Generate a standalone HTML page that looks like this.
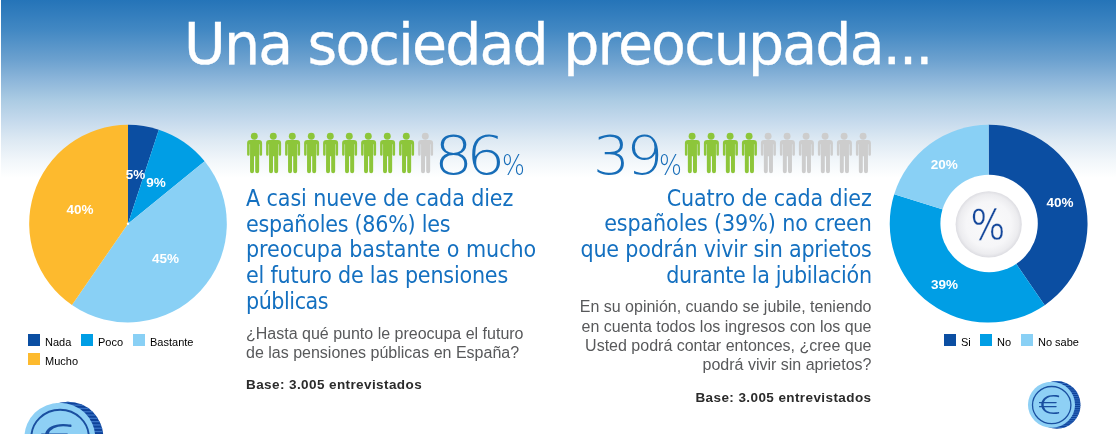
<!DOCTYPE html>
<html lang="es"><head><meta charset="utf-8"><title>Una sociedad preocupada</title>
<style>
html,body{margin:0;padding:0;background:#fff;}
body{width:1116px;height:434px;overflow:hidden;position:relative;font-family:"Liberation Sans",Arial,sans-serif;}
#bg{position:absolute;left:1px;top:0;width:1115px;height:434px;background:linear-gradient(to bottom,#2574b8 0px,#4288c3 30px,#6ca1cf 60px,#8db6da 80px,#abcbe3 100px,#c4d9ec 120px,#dde9f3 140px,#f1f6fa 160px,#ffffff 178px);}
#art{position:absolute;left:0;top:0;}
h1{position:absolute;margin:0;left:184px;text-align:left;color:#fff;font-family:"DejaVu Sans",sans-serif;font-weight:normal;font-size:57px;line-height:66px;white-space:nowrap;letter-spacing:-1.84px;top:11px;-webkit-text-stroke:0.35px #fff;}
.blue{position:absolute;margin:0;color:#1470c0;font-family:"DejaVu Sans Condensed","DejaVu Sans",sans-serif;font-size:23px;line-height:25.75px;white-space:nowrap;letter-spacing:-0.1px;}
.gray{position:absolute;margin:0;color:#58595b;font-size:16px;line-height:19px;white-space:nowrap;}
.base{position:absolute;margin:0;color:#2b2b2b;font-weight:bold;font-size:13.5px;line-height:16px;letter-spacing:0.41px;white-space:nowrap;}
.r{text-align:right;}
.big{position:absolute;color:#176db8;font-family:"DejaVu Sans Light","DejaVu Sans",sans-serif;font-weight:200;font-size:52.5px;line-height:52px;white-space:nowrap;transform-origin:0 0;letter-spacing:-5.9px;transform:scaleX(1.17);}
.sm{position:absolute;color:#176db8;font-family:"DejaVu Sans Light","DejaVu Sans",sans-serif;font-weight:200;font-size:28px;line-height:28px;white-space:nowrap;transform-origin:0 0;transform:scaleX(0.86);}
.lbl{position:absolute;color:#fff;font-weight:bold;font-size:13.5px;line-height:14px;white-space:nowrap;transform:translate(-50%,-50%);}
.leg{position:absolute;font-size:11px;line-height:12px;color:#000;white-space:nowrap;}
.leg span{position:relative;top:2px;}
.leg i{position:absolute;width:12px;height:12px;top:0;}
.pct{position:absolute;left:988.3px;top:224.6px;color:#14479b;font-family:"NanumGothic","Liberation Sans",sans-serif;font-size:41px;line-height:41px;-webkit-text-stroke:0.3px #f7f7f9;transform:translate(-50%,-50%) scaleX(0.88);}
</style></head><body>
<div id="bg"></div>
<svg id="art" width="1116" height="434" viewBox="0 0 1116 434">
<defs><symbol id="p" viewBox="0 0 16 41" overflow="visible"><circle cx="7.8" cy="3.65" r="3.45"/><path d="M3.2,7.3 h9.2 a3.2,3.2 0 0 1 3.2,3.2 v11.4 a1.25,1.25 0 0 1 -2.5,0 v-10.2 h-0.45 v26.9 a1.97,1.97 0 0 1 -3.95,0 v-15 h-1.2 v15 a1.97,1.97 0 0 1 -3.95,0 v-26.9 h-0.45 v10.2 a1.25,1.25 0 0 1 -2.5,0 v-11.4 a3.2,3.2 0 0 1 3.2,-3.2 z"/></symbol>
<clipPath id="rimclip"><ellipse cx="5.4" cy="0.1" rx="23.6" ry="23.8"/></clipPath>
<g id="coin">
<ellipse cx="5.4" cy="0.1" rx="23.6" ry="23.8" fill="#0d429a"/>
<g clip-path="url(#rimclip)" fill="#3a74c6"><rect x="0" y="-24.00" width="32" height="0.85"/><rect x="0" y="-21.80" width="32" height="0.85"/><rect x="0" y="-19.60" width="32" height="0.85"/><rect x="0" y="-17.40" width="32" height="0.85"/><rect x="0" y="-15.20" width="32" height="0.85"/><rect x="0" y="-13.00" width="32" height="0.85"/><rect x="0" y="-10.80" width="32" height="0.85"/><rect x="0" y="-8.60" width="32" height="0.85"/><rect x="0" y="-6.40" width="32" height="0.85"/><rect x="0" y="-4.20" width="32" height="0.85"/><rect x="0" y="-2.00" width="32" height="0.85"/><rect x="0" y="0.20" width="32" height="0.85"/><rect x="0" y="2.40" width="32" height="0.85"/><rect x="0" y="4.60" width="32" height="0.85"/><rect x="0" y="6.80" width="32" height="0.85"/><rect x="0" y="9.00" width="32" height="0.85"/><rect x="0" y="11.20" width="32" height="0.85"/><rect x="0" y="13.40" width="32" height="0.85"/><rect x="0" y="15.60" width="32" height="0.85"/><rect x="0" y="17.80" width="32" height="0.85"/><rect x="0" y="20.00" width="32" height="0.85"/><rect x="0" y="22.20" width="32" height="0.85"/><rect x="0" y="24.40" width="32" height="0.85"/></g>
<ellipse cx="0" cy="0" rx="23.55" ry="22.95" fill="#8ed0f5"/>
<ellipse cx="0.2" cy="0.3" rx="19.2" ry="18.6" fill="none" stroke="#1a4fa0" stroke-width="1.3"/>
<text transform="translate(-12.4,9.1) scale(1.36,1.02)" x="0" y="0" font-family="NanumGothic, 'DejaVu Sans', sans-serif" font-size="24" fill="#1a4fa0">€</text>
</g>
<radialGradient id="rg" cx="50%" cy="50%" r="50%"><stop offset="0" stop-color="#fafafb"/><stop offset="0.68" stop-color="#f6f6f8"/><stop offset="0.9" stop-color="#ececef"/><stop offset="1" stop-color="#dddde2"/></radialGradient>
</defs>
<path d="M128.00,223.65 L128.00,124.85 A98.8,98.8 0 0 1 158.83,129.78 Z" fill="#0b4ea2"/>
<path d="M128.00,223.65 L158.83,129.78 A98.8,98.8 0 0 1 204.68,161.35 Z" fill="#009ee5"/>
<path d="M128.00,223.65 L204.68,161.35 A98.8,98.8 0 0 1 71.97,305.03 Z" fill="#89d0f5"/>
<path d="M128.00,223.65 L71.97,305.03 A98.8,98.8 0 0 1 128.00,124.85 Z" fill="#fdba2e"/>
<circle cx="128" cy="223.8" r="1.2" fill="#fff"/>
<path d="M988.65,223.70 L988.65,124.80 A98.9,98.9 0 0 1 1044.73,305.16 Z" fill="#0b4ea2"/>
<path d="M988.65,223.70 L1044.73,305.16 A98.9,98.9 0 0 1 894.21,194.33 Z" fill="#009ee5"/>
<path d="M988.65,223.70 L894.21,194.33 A98.9,98.9 0 0 1 988.65,124.80 Z" fill="#89d0f5"/>
<circle cx="989.1" cy="223.5" r="48.7" fill="#fff"/>
<circle cx="988.7" cy="224.3" r="33.1" fill="url(#rg)"/>
<use href="#p" x="246.5" y="132.6" width="16" height="41" fill="#8dc63a"/>
<use href="#p" x="265.5" y="132.6" width="16" height="41" fill="#8dc63a"/>
<use href="#p" x="284.5" y="132.6" width="16" height="41" fill="#8dc63a"/>
<use href="#p" x="303.5" y="132.6" width="16" height="41" fill="#8dc63a"/>
<use href="#p" x="322.5" y="132.6" width="16" height="41" fill="#8dc63a"/>
<use href="#p" x="341.5" y="132.6" width="16" height="41" fill="#8dc63a"/>
<use href="#p" x="360.5" y="132.6" width="16" height="41" fill="#8dc63a"/>
<use href="#p" x="379.5" y="132.6" width="16" height="41" fill="#8dc63a"/>
<use href="#p" x="398.5" y="132.6" width="16" height="41" fill="#8dc63a"/>
<use href="#p" x="417.5" y="132.6" width="16" height="41" fill="#cdcdcd"/>
<use href="#p" x="684.3" y="132.6" width="16" height="41" fill="#8dc63a"/>
<use href="#p" x="703.3" y="132.6" width="16" height="41" fill="#8dc63a"/>
<use href="#p" x="722.3" y="132.6" width="16" height="41" fill="#8dc63a"/>
<use href="#p" x="741.3" y="132.6" width="16" height="41" fill="#8dc63a"/>
<use href="#p" x="760.3" y="132.6" width="16" height="41" fill="#cdcdcd"/>
<use href="#p" x="779.3" y="132.6" width="16" height="41" fill="#cdcdcd"/>
<use href="#p" x="798.3" y="132.6" width="16" height="41" fill="#cdcdcd"/>
<use href="#p" x="817.3" y="132.6" width="16" height="41" fill="#cdcdcd"/>
<use href="#p" x="836.3" y="132.6" width="16" height="41" fill="#cdcdcd"/>
<use href="#p" x="855.3" y="132.6" width="16" height="41" fill="#cdcdcd"/>
<use href="#coin" transform="translate(59.8,437.2) scale(1.5)"/>
<use href="#coin" transform="translate(1051.5,404.8) scale(1)"/>
</svg>
<h1>Una sociedad preocupada...</h1>

<div class="big" style="left:434.1px;top:130px">86</div><div class="sm" style="left:502px;top:152px">%</div>
<div class="big" style="left:593px;top:130px;transform:scaleX(1.108);letter-spacing:-3.4px">39</div><div class="sm" style="left:659px;top:152px">%</div>

<p class="blue" style="left:246px;top:185.8px">A casi nueve de cada diez<br><span style="letter-spacing:-0.245px">españoles (86%) les</span><br><span style="letter-spacing:-0.03px">preocupa bastante o mucho</span><br><span style="letter-spacing:-0.19px">el futuro de las pensiones</span><br><span style="letter-spacing:-0.45px">públicas</span></p>
<p class="gray" style="left:246px;top:324px">¿Hasta qué punto le preocupa el futuro<br>de las pensiones públicas en España?</p>
<p class="base" style="left:246px;top:377px">Base: 3.005 entrevistados</p>

<p class="blue r" style="right:244.3px;top:185.5px">Cuatro de cada diez<br>españoles (39%) no creen<br><span style="letter-spacing:-0.2px">que podrán vivir sin aprietos</span><br><span style="letter-spacing:-0.315px">durante la jubilación</span></p>
<p class="gray r" style="right:244.5px;top:297.4px;line-height:19.3px">En su opinión, cuando se jubile, teniendo<br>en cuenta todos los ingresos con los que<br>Usted podrá contar entonces, ¿cree que<br>podrá vivir sin aprietos?</p>
<p class="base r" style="right:244.5px;top:390px">Base: 3.005 entrevistados</p>

<span class="lbl" style="left:135.6px;top:175px">5%</span>
<span class="lbl" style="left:156px;top:183px">9%</span>
<span class="lbl" style="left:80px;top:209.5px">40%</span>
<span class="lbl" style="left:165.5px;top:258.5px">45%</span>
<span class="lbl" style="left:944.3px;top:164.5px">20%</span>
<span class="lbl" style="left:1060px;top:203px">40%</span>
<span class="lbl" style="left:944.5px;top:284.6px">39%</span>
<div class="pct">%</div>

<div class="leg" style="left:28px;top:334px"><i style="left:0;background:#0b4ea2"></i><span style="margin-left:17px">Nada</span></div>
<div class="leg" style="left:81px;top:334px"><i style="left:0;background:#009ee5"></i><span style="margin-left:17px">Poco</span></div>
<div class="leg" style="left:133px;top:334px"><i style="left:0;background:#89d0f5"></i><span style="margin-left:17px">Bastante</span></div>
<div class="leg" style="left:28px;top:353px"><i style="left:0;background:#fdba2e"></i><span style="margin-left:17px">Mucho</span></div>

<div class="leg" style="left:944px;top:334px"><i style="left:0;background:#0b4ea2"></i><span style="margin-left:17px">Si</span></div>
<div class="leg" style="left:980px;top:334px"><i style="left:0;background:#009ee5"></i><span style="margin-left:17px">No</span></div>
<div class="leg" style="left:1021px;top:334px"><i style="left:0;background:#89d0f5"></i><span style="margin-left:17px">No sabe</span></div>
</body></html>
